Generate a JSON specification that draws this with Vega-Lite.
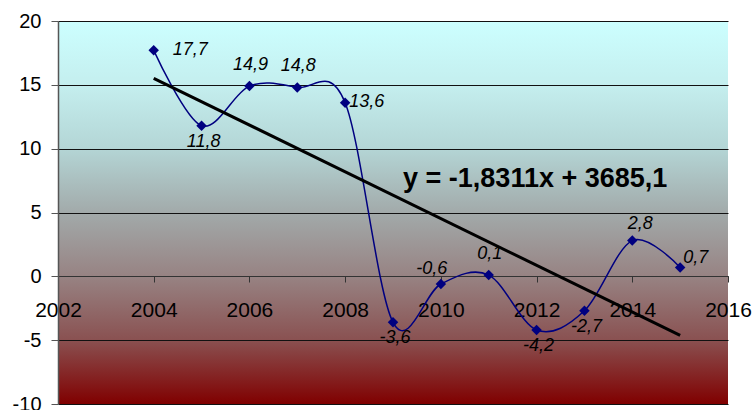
{
  "$schema": "https://vega.github.io/schema/vega-lite/v6.json",
  "width": 670,
  "height": 383,
  "autosize": "none",
  "padding": {"left": 58, "top": 21, "right": 26, "bottom": 6},
  "background": "#ffffff",
  "config": {
    "font": "Liberation Sans",
    "locale": {
      "number": {"decimal": ",", "thousands": " ", "grouping": [3], "currency": ["", ""], "minus": "-"}
    },
    "view": {
      "stroke": null,
      "fill": {
        "gradient": "linear",
        "x1": 0, "y1": 0, "x2": 0, "y2": 1,
        "stops": [
          {"offset": 0, "color": "#ccffff"},
          {"offset": 0.17, "color": "#c4eeee"},
          {"offset": 0.33, "color": "#b4d6d6"},
          {"offset": 0.5, "color": "#a2aaaa"},
          {"offset": 0.67, "color": "#978282"},
          {"offset": 0.83, "color": "#8a5252"},
          {"offset": 1, "color": "#800000"}
        ]
      }
    }
  },
  "data": {
    "values": [
      {"year": 2004, "value": 17.7},
      {"year": 2005, "value": 11.8},
      {"year": 2006, "value": 14.9},
      {"year": 2007, "value": 14.8},
      {"year": 2008, "value": 13.6},
      {"year": 2009, "value": -3.6},
      {"year": 2010, "value": -0.6},
      {"year": 2011, "value": 0.1},
      {"year": 2012, "value": -4.2},
      {"year": 2013, "value": -2.7},
      {"year": 2014, "value": 2.8},
      {"year": 2015, "value": 0.7}
    ]
  },
  "encoding": {
    "x": {
      "field": "year",
      "type": "quantitative",
      "scale": {"domain": [2002, 2016], "nice": false, "zero": false},
      "axis": {
        "title": null,
        "values": [2002, 2004, 2006, 2008, 2010, 2012, 2014, 2016],
        "format": "d",
        "grid": false,
        "offset": -128,
        "domainColor": "#333333",
        "domainWidth": 1,
        "tickColor": "#333333",
        "tickSize": 6,
        "labelPadding": 17,
        "labelFontSize": 21,
        "labelColor": "#000000",
        "labelFlush": false
      }
    },
    "y": {
      "field": "value",
      "type": "quantitative",
      "scale": {"domain": [-10, 20], "nice": false},
      "axis": {
        "title": null,
        "values": [-10, -5, 0, 5, 10, 15, 20],
        "grid": true,
        "gridColor": "#111111",
        "gridWidth": 1,
        "domainColor": "#555555",
        "domainWidth": 1.5,
        "tickColor": "#555555",
        "tickSize": 7,
        "labelPadding": 10,
        "labelFontSize": 20,
        "labelColor": "#000000",
        "labelFlush": false
      }
    }
  },
  "layer": [
    {
      "mark": {"type": "line", "interpolate": "cardinal", "color": "#000080", "strokeWidth": 1.5}
    },
    {
      "mark": {"type": "point", "shape": "diamond", "filled": true, "size": 110, "color": "#000080", "opacity": 1}
    },
    {
      "transform": [{"regression": "value", "on": "year"}],
      "mark": {"type": "line", "color": "#000000", "strokeWidth": 3}
    },
    {
      "transform": [{"filter": {"field": "year", "equal": 2004}}],
      "mark": {"type": "text", "align": "left", "baseline": "middle", "dx": 19, "dy": 0, "fontSize": 18, "fontStyle": "italic", "color": "#000000"},
      "encoding": {"text": {"field": "value", "type": "quantitative", "format": ".1f"}}
    },
    {
      "transform": [{"filter": {"field": "year", "equal": 2008}}],
      "mark": {"type": "text", "align": "left", "baseline": "middle", "dx": 4, "dy": -1, "fontSize": 18, "fontStyle": "italic", "color": "#000000"},
      "encoding": {"text": {"field": "value", "type": "quantitative", "format": ".1f"}}
    },
    {
      "transform": [{"filter": {"field": "year", "equal": 2015}}],
      "mark": {"type": "text", "align": "left", "baseline": "middle", "dx": 3, "dy": -9, "fontSize": 18, "fontStyle": "italic", "color": "#000000"},
      "encoding": {"text": {"field": "value", "type": "quantitative", "format": ".1f"}}
    },
    {
      "transform": [{"filter": {"field": "year", "oneOf": [2006, 2007, 2011]}}],
      "mark": {"type": "text", "align": "center", "baseline": "middle", "dx": 1, "dy": -21, "fontSize": 18, "fontStyle": "italic", "color": "#000000"},
      "encoding": {"text": {"field": "value", "type": "quantitative", "format": ".1f"}}
    },
    {
      "transform": [{"filter": {"field": "year", "equal": 2010}}],
      "mark": {"type": "text", "align": "center", "baseline": "middle", "dx": -9, "dy": -15, "fontSize": 18, "fontStyle": "italic", "color": "#000000"},
      "encoding": {"text": {"field": "value", "type": "quantitative", "format": ".1f"}}
    },
    {
      "transform": [{"filter": {"field": "year", "equal": 2014}}],
      "mark": {"type": "text", "align": "center", "baseline": "middle", "dx": 8, "dy": -17, "fontSize": 18, "fontStyle": "italic", "color": "#000000"},
      "encoding": {"text": {"field": "value", "type": "quantitative", "format": ".1f"}}
    },
    {
      "transform": [{"filter": {"field": "year", "oneOf": [2005, 2009, 2012, 2013]}}],
      "mark": {"type": "text", "align": "center", "baseline": "middle", "dx": 2, "dy": 16, "fontSize": 18, "fontStyle": "italic", "color": "#000000"},
      "encoding": {"text": {"field": "value", "type": "quantitative", "format": ".1f"}}
    },
    {
      "data": {"values": [{"label": "y = -1,8311x + 3685,1", "x": 2009.21, "y": 7.6}]},
      "mark": {"type": "text", "align": "left", "baseline": "middle", "fontSize": 27, "fontWeight": "bold", "color": "#000000"},
      "encoding": {
        "x": {"field": "x", "type": "quantitative"},
        "y": {"field": "y", "type": "quantitative"},
        "text": {"field": "label"}
      }
    }
  ]
}
